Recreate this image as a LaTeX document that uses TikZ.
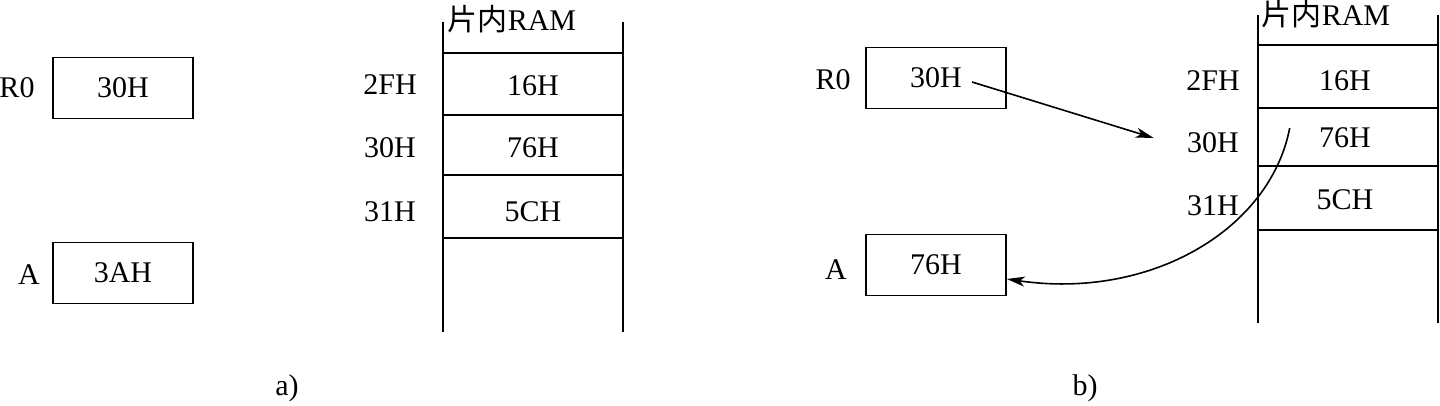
\documentclass[tikz,border=0pt]{standalone}
\usepackage{fontspec}
\setmainfont{Liberation Serif}
\newfontfamily\cjk{Noto Sans CJK SC}
\usetikzlibrary{arrows.meta}

\begin{document}
\begin{tikzpicture}[x=0.5pt, y=-0.5pt, line width=0.8pt,
    font=\fontsize{15}{18}\selectfont,
    regbox/.style={draw, minimum width=70pt, minimum height=30.5pt, inner sep=0pt},
    ptr/.style={-{Stealth[length=9pt, width=5pt, inset=2.5pt]}}]
                \useasboundingbox (0,0) rectangle (1440,406);

                % a) before
                \node[regbox] (r0a) at (123, 88) {30H};
                \node[regbox] (acca) at (123, 273) {3AH};
                \node (r0la) at (17, 88) {R0};
                \node (ala) at (29, 275) {A};
                \draw (443, 22) -- (443, 332);
                \draw (623, 22) -- (623, 332);
                \foreach \y in {53, 115, 175, 238}
                    \draw (443, \y) -- (623, \y);
                \node[anchor=west, inner sep=0pt] (rama) at (447, 19) {{\cjk 片内}RAM};
                \node (adra1) at (390, 85) {2FH};
                \node (adra2) at (390, 148) {30H};
                \node (adra3) at (390, 212) {31H};
                \node (vala1) at (533, 86) {16H};
                \node (vala2) at (533, 148) {76H};
                \node (vala3) at (533, 212) {5CH};
                \node (capa) at (287, 388) {a)};

                % b) after MOV A,@R0
                \node[regbox] (r0b) at (936, 78) {30H};
                \node[regbox] (accb) at (936, 265) {76H};
                \node (r0lb) at (833, 80) {R0};
                \node (alb) at (836, 270) {A};
                \draw (1258, 15) -- (1258, 323);
                \draw (1438, 15) -- (1438, 323);
                \foreach \y in {45, 108, 166, 230}
                    \draw (1258, \y) -- (1438, \y);
                \node[anchor=west, inner sep=0pt] (ramb) at (1261, 14) {{\cjk 片内}RAM};
                \node (adrb1) at (1213, 81) {2FH};
                \node (adrb2) at (1213, 143) {30H};
                \node (adrb3) at (1213, 206) {31H};
                \node (valb1) at (1345, 81) {16H};
                \node (valb2) at (1345, 138) {76H};
                \node (valb3) at (1345, 200) {5CH};
                \node (capb) at (1085, 388) {b)};

                \coordinate (ptrend) at ([xshift=-13pt, yshift=2.5pt]adrb2.west);
                \coordinate (fetch) at ([xshift=-11pt, yshift=5pt]valb2.west);
                \draw[ptr] (r0b.center) ++(36, 4) -- (ptrend);
                \draw[ptr] (fetch) .. controls (1270, 230) and (1150, 300) .. ([yshift=-7pt]accb.east);
\end{tikzpicture}
\end{document}
